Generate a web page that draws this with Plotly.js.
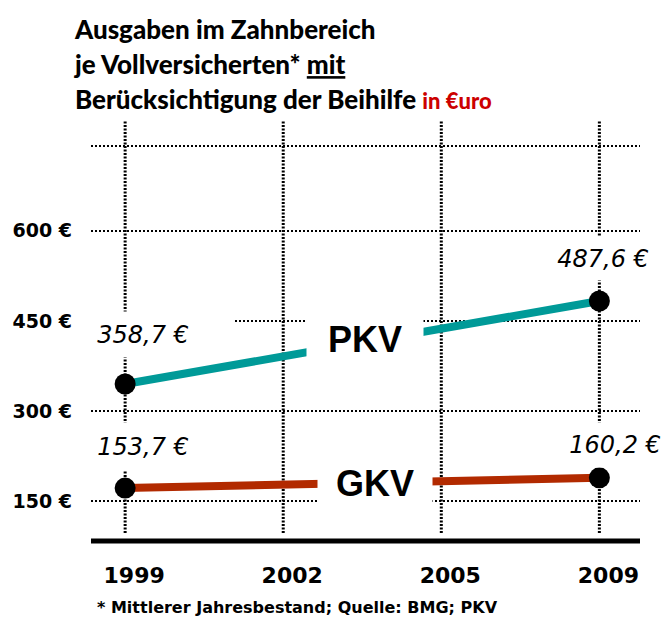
<!DOCTYPE html>
<html><head><meta charset="utf-8">
<script src="https://cdn.plot.ly/plotly-3.0.1.min.js"></script>
<style>html,body{margin:0;padding:0;background:#fff;}#chart{width:664px;height:619px;}</style>
</head><body><div id="chart"></div>
<script>
// ---- data ----
const years = ['1999', '2002', '2005', '2009'];
const seriesYears = ['1999', '2009'];
const pkvValues = [345, 483];          // as drawn in the picture
const gkvValues = [172, 189];          // as drawn in the picture
const pkvLabels = ['358,7 €', '487,6 €'];
const gkvLabels = ['153,7 €', '160,2 €'];
const yTicks = [150, 300, 450, 600];
const yTickText = ['150 €', '300 €', '450 €', '600 €'];
const seriesNames = ['PKV', 'GKV'];
const footnote = '* Mittlerer Jahresbestand; Quelle: BMG; PKV';

// ---- build ----
const xIdx = seriesYears.map(y => years.indexOf(y));
const yearIdx = years.map((y, i) => i);

const traces = [
  {x: xIdx, y: pkvValues, name: 'PKV', mode: 'lines+markers',
   line: {color: '#009A98', width: 8}, marker: {color: '#000', size: 21}},
  {x: xIdx, y: gkvValues, name: 'GKV', mode: 'lines+markers',
   line: {color: '#B22A00', width: 8}, marker: {color: '#000', size: 21}}
];

const dot = {color: '#000', width: 2, dash: '2px,2px'};
const shapes = yearIdx.map(i => ({type: 'line', xref: 'x', yref: 'paper', x0: i, x1: i, y0: 0.019, y1: 1,
  line: {color: '#000', width: 3, dash: '2px,1.5px'}, layer: 'below'}));
shapes.push({type: 'line', xref: 'paper', yref: 'paper', x0: 0, x1: 1, y0: 0.938, y1: 0.938, line: dot, layer: 'below'});
shapes.push({type: 'line', xref: 'paper', yref: 'paper', x0: 0, x1: 1, y0: 0, y1: 0, line: {color: '#000', width: 5}, layer: 'above'});
// white label backdrop to the left of the first PKV value label
shapes.push({type: 'rect', xref: 'paper', yref: 'paper', x0: 0, x1: 0.2587, y0: 0.437, y1: 0.544,
  fillcolor: '#fff', line: {width: 0}, layer: 'above'});

const labFont = {family: 'DejaVu Sans', size: 24, style: 'italic', color: '#000'};
const annotations = [
  {x: xIdx[0], y: pkvValues[0], text: pkvLabels[0], xshift: 18, yshift: 49.5, width: 134, height: 45},
  {x: xIdx[1], y: pkvValues[1], text: pkvLabels[1], xshift: 4, yshift: 42.5, width: 116, height: 43},
  {x: xIdx[0], y: gkvValues[0], text: gkvLabels[0], xshift: 18, yshift: 41.5, width: 134, height: 47},
  {x: xIdx[1], y: gkvValues[1], text: gkvLabels[1], xshift: 16, yshift: 33, width: 98, height: 44}
].map(a => Object.assign({xref: 'x', yref: 'y', showarrow: false, bgcolor: '#fff', borderpad: 0, font: labFont}, a));

const nameFont = {family: 'Liberation Sans', size: 36, weight: 'bold', color: '#000'};
annotations.push({xref: 'x', yref: 'y', x: (xIdx[0] + xIdx[1]) / 2, y: (pkvValues[0] + pkvValues[1]) / 2,
  text: seriesNames[0], xshift: 3, yshift: 4, width: 116, height: 44, showarrow: false, bgcolor: '#fff', borderpad: 0, font: nameFont});
annotations.push({xref: 'x', yref: 'y', x: (xIdx[0] + xIdx[1]) / 2, y: (gkvValues[0] + gkvValues[1]) / 2,
  text: seriesNames[1], xshift: 13, yshift: 0, width: 114, height: 44, showarrow: false, bgcolor: '#fff', borderpad: 0, font: nameFont});
annotations.push({xref: 'paper', yref: 'paper', x: (95 - 91) / 549, y: -0.158, xanchor: 'left', yanchor: 'middle',
  text: footnote, showarrow: false, font: {family: 'DejaVu Sans', size: 16, weight: 'bold', color: '#000'}});

const s = 'font-size:26px';
const titleText =
  '<span style="' + s + '">Ausgaben im Zahnbereich</span><br>' +
  '<span style="' + s + '">je Vollversicherten* </span><span style="' + s + ';text-decoration:underline">mit</span><br>' +
  '<span style="' + s + '">Berücksichtigung der Beihilfe </span><span style="font-size:22px;color:#CC0000">in €uro</span>';

const layout = {
  width: 664, height: 619,
  margin: {l: 91, r: 24, t: 120, b: 78},
  paper_bgcolor: '#fff', plot_bgcolor: '#fff',
  showlegend: false,
  title: {text: titleText, x: 75 / 664, xref: 'container', xanchor: 'left',
    y: 1 - 39 / 619, yref: 'container', yanchor: 'top',
    font: {family: 'Lato', size: 27, weight: 900, color: '#000'}},
  xaxis: {range: [-0.216, 3.257], tickvals: yearIdx, ticktext: years, showgrid: false, zeroline: false,
    showline: false, ticks: '', ticklabelstandoff: 19, ticklabelshift: 9,
    tickfont: {family: 'DejaVu Sans', size: 22, weight: 'bold', color: '#000'}},
  yaxis: {range: [84, 784], tickvals: yTicks, ticktext: yTickText, showgrid: true, gridcolor: '#000',
    gridwidth: 2, griddash: '2px,2px', zeroline: false, showline: false, ticks: '', ticklabelstandoff: 18,
    tickfont: {family: 'DejaVu Sans', size: 19, weight: 'bold', color: '#000'}},
  shapes: shapes,
  annotations: annotations
};

Plotly.newPlot('chart', traces, layout, {displayModeBar: false, staticPlot: true});
</script>
</body></html>
